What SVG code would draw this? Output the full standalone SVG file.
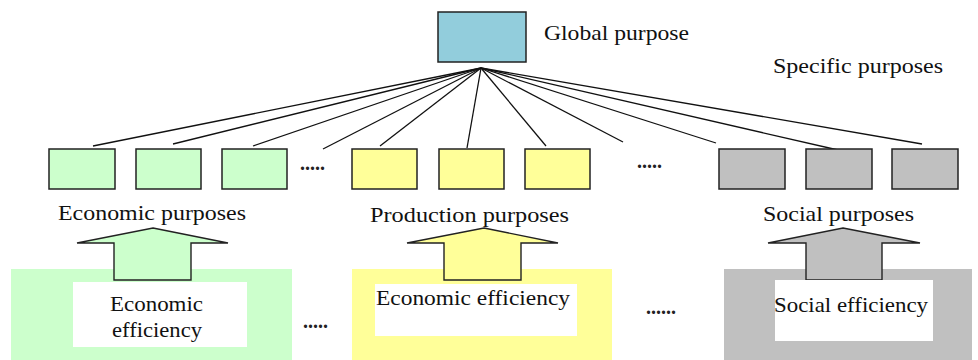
<svg xmlns="http://www.w3.org/2000/svg" width="978" height="360" viewBox="0 0 978 360">
  <style>
    .lbl { font-family: "Liberation Serif", "Times New Roman", serif; font-size: 21px; fill: #111; }
    .dots { font-family: "Liberation Serif", serif; font-size: 20px; font-weight: bold; fill: #222; }
    .box { stroke: #222; stroke-width: 1.5; }
    .eco { fill: #CCFFCC; }
    .pro { fill: #FFFF99; }
    .soc { fill: #C0C0C0; }
    .conn line { stroke: #111; stroke-width: 1.3; }
    .arrow { stroke: #222; stroke-width: 1.4; stroke-linejoin: miter; }
    .panel { fill: #fff; }
  </style>
  <rect width="978" height="360" fill="#fff"/>

  <!-- efficiency backgrounds -->
  <rect x="11" y="269" width="281" height="91" class="eco"/>
  <rect x="352" y="269" width="260" height="91" class="pro"/>
  <rect x="724" y="269" width="248" height="91" class="soc"/>

  <!-- connectors from the global purpose to specific purposes -->
  <g id="connectors" class="conn">
    <line x1="481" y1="68" x2="93" y2="146"/>
    <line x1="481" y1="68" x2="173" y2="144"/>
    <line x1="481" y1="68" x2="253" y2="146"/>
    <line x1="481" y1="68" x2="323" y2="149"/>
    <line x1="481" y1="68" x2="380" y2="146"/>
    <line x1="481" y1="68" x2="467" y2="148"/>
    <line x1="481" y1="68" x2="546" y2="146"/>
    <line x1="481" y1="68" x2="623" y2="142"/>
    <line x1="481" y1="68" x2="716" y2="143"/>
    <line x1="481" y1="68" x2="838" y2="150"/>
    <line x1="481" y1="68" x2="922" y2="144"/>
  </g>

  <g id="global-purpose">
    <rect x="438" y="12" width="88" height="50" fill="#92CDDC" class="box"/>
    <text x="544" y="40" class="lbl" textLength="145" lengthAdjust="spacingAndGlyphs">Global purpose</text>
  </g>

  <text id="specific-purposes" x="773" y="73" class="lbl" textLength="170" lengthAdjust="spacingAndGlyphs">Specific purposes</text>

  <!-- economic purposes -->
  <g id="economic-purposes">
    <rect x="49" y="149" width="66" height="40" class="box eco"/>
    <rect x="136" y="149" width="65" height="40" class="box eco"/>
    <rect x="222" y="149" width="65" height="40" class="box eco"/>
    <text x="300" y="170" class="dots">.....</text>
    <text x="58" y="220" class="lbl" textLength="188" lengthAdjust="spacingAndGlyphs">Economic purposes</text>
  </g>

  <!-- production purposes -->
  <g id="production-purposes">
    <rect x="352" y="149" width="65" height="40" class="box pro"/>
    <rect x="439" y="149" width="65" height="40" class="box pro"/>
    <rect x="525" y="149" width="65" height="40" class="box pro"/>
    <text x="637" y="168" class="dots">.....</text>
    <text x="370" y="222" class="lbl" textLength="199" lengthAdjust="spacingAndGlyphs">Production purposes</text>
  </g>

  <!-- social purposes -->
  <g id="social-purposes">
    <rect x="719" y="149" width="66" height="40" class="box soc"/>
    <rect x="806" y="149" width="66" height="40" class="box soc"/>
    <rect x="892" y="149" width="66" height="40" class="box soc"/>
    <text x="763" y="221" class="lbl" textLength="151" lengthAdjust="spacingAndGlyphs">Social purposes</text>
  </g>

  <!-- block arrows -->
  <g id="arrow-economic">
    <polygon class="arrow eco" points="153,228 228,243 191,243 191,280 114,280 114,243 77,243"/>
  </g>
  <g id="arrow-production">
    <polygon class="arrow pro" points="484,228 558,243 521,243 521,280 444,280 444,243 407,243"/>
  </g>
  <g id="arrow-social">
    <polygon class="arrow soc" points="843,228 920,243 882,243 882,280 806,280 806,243 768,243"/>
  </g>

  <!-- efficiency panels -->
  <g id="economic-efficiency">
    <rect x="73" y="282" width="174" height="65" class="panel"/>
    <text x="110" y="311" class="lbl" textLength="93" lengthAdjust="spacingAndGlyphs">Economic</text>
    <text x="112" y="337" class="lbl" textLength="90" lengthAdjust="spacingAndGlyphs">efficiency</text>
  </g>
  <text x="303" y="328" class="dots">.....</text>

  <g id="production-efficiency">
    <rect x="375" y="284" width="202" height="52" class="panel"/>
    <text x="376" y="305" class="lbl" textLength="194" lengthAdjust="spacingAndGlyphs">Economic efficiency</text>
  </g>
  <text x="646" y="314" class="dots">......</text>

  <g id="social-efficiency">
    <rect x="775" y="280" width="158" height="61" class="panel"/>
    <text x="774" y="312" class="lbl" textLength="154" lengthAdjust="spacingAndGlyphs">Social efficiency</text>
  </g>
</svg>
